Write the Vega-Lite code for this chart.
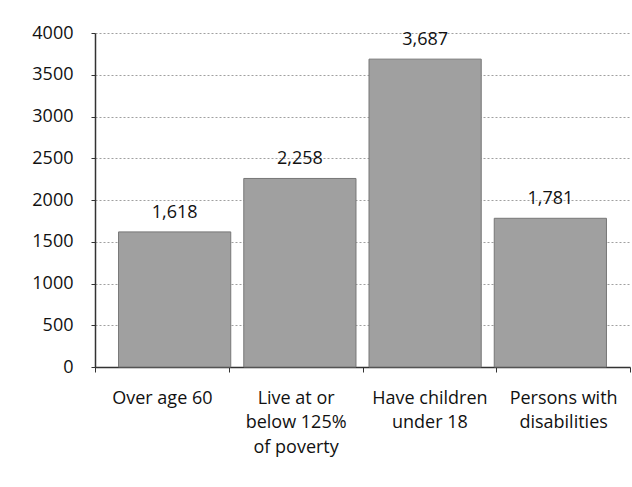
{
  "$schema": "https://vega.github.io/schema/vega-lite/v6.json",
  "autosize": "none",
  "width": 535,
  "height": 334,
  "padding": {"left": 95, "top": 33, "right": 2, "bottom": 120},
  "background": "white",
  "config": {"view": {"stroke": null}, "font": "Open Sans"},
  "data": {"values": [
    {"group": "Over age 60", "count": 1618},
    {"group": "Live at or|below 125%|of poverty", "count": 2258},
    {"group": "Have children|under 18", "count": 3687},
    {"group": "Persons with|disabilities", "count": 1781}
  ]},
  "encoding": {
    "y": {"field": "count", "type": "quantitative",
      "scale": {"domain": [0, 4000], "nice": false},
      "axis": {"title": null, "values": [0,500,1000,1500,2000,2500,3000,3500,4000], "format": "d",
        "labelFontSize": 18, "labelColor": "#111", "labelPadding": 18, "labelFont": "Open Sans",
        "tickColor": "#333", "tickSize": 4, "domainColor": "#333", "domainWidth": 1.5,
        "gridColor": "#888", "gridDash": [2, 2], "gridWidth": 0.8}}
  },
  "layer": [
    {"mark": {"type": "bar", "opacity": 0},
      "encoding": {
        "x": {"field": "group", "type": "nominal", "sort": null,
          "scale": {"paddingInner": 0, "paddingOuter": 0},
          "axis": {"title": null, "labelAngle": 0, "labelExpr": "split(datum.label, '|')",
            "labelFontSize": 18, "labelColor": "#111", "labelPadding": 17, "labelLineHeight": 24.5,
            "tickBand": "extent", "tickColor": "#333", "tickSize": 5, "domainColor": "#333", "domainWidth": 1.5,
            "labelBaseline": "top", "labelFont": "Open Sans"}}
      }},
    {"encoding": {
        "x": {"field": "group", "type": "nominal", "sort": null,
          "scale": {"paddingInner": 0.104, "paddingOuter": 0.188}, "axis": null}
      },
      "layer": [
        {"mark": {"type": "bar", "color": "#a0a0a0", "stroke": "#777777", "strokeWidth": 1}},
        {"mark": {"type": "text", "dy": -19, "fontSize": 18, "color": "#111", "font": "Open Sans"},
          "encoding": {"text": {"field": "count", "type": "quantitative", "format": ","}}}
      ]}
  ],
  "resolve": {"scale": {"x": "independent"}, "axis": {"x": "independent"}}
}
